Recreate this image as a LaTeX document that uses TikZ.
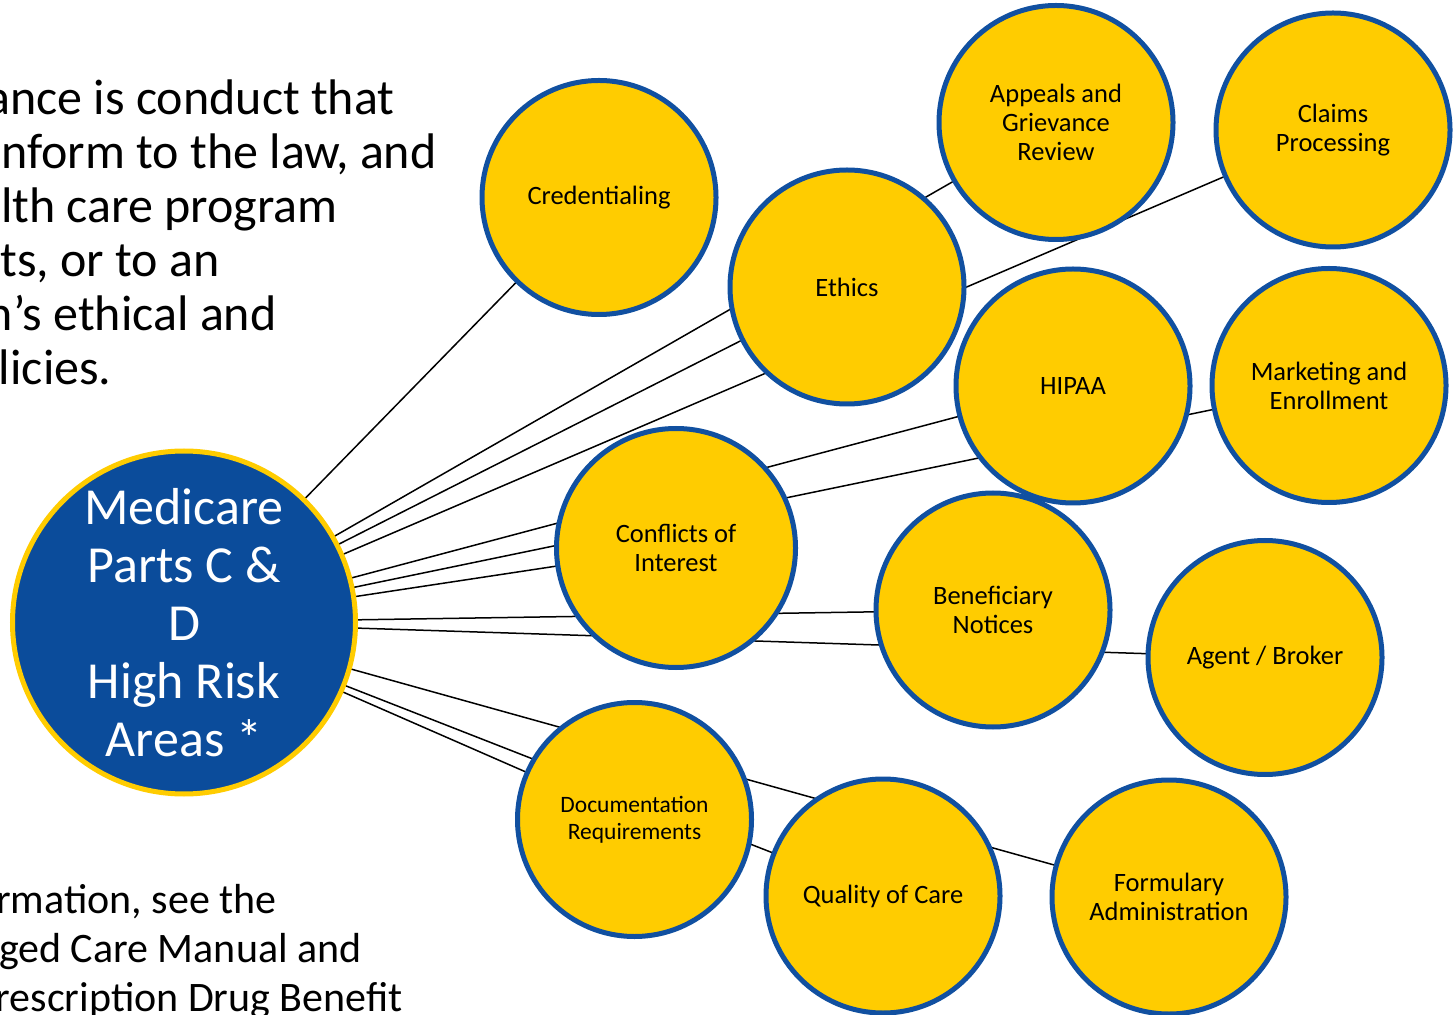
\documentclass[tikz,border=0pt]{standalone}
\usepackage{fontspec}
\setmainfont{Carlito}
\usepackage{tikz}
\usetikzlibrary{positioning,backgrounds}
\definecolor{areaYellow}{RGB}{255,204,0}
\definecolor{areaBlue}{RGB}{17,80,160}
\definecolor{hubBlue}{RGB}{11,76,155}

\begin{document}
\begin{tikzpicture}[x=0.5pt, y=-0.5pt,
                   area/.style={circle, draw=areaBlue, line width=2.5pt, fill=areaYellow,
                                minimum size=117pt, inner sep=0pt, align=center,
                                font=\fontsize{13.25pt}{14.5pt}\selectfont},
                   hub/.style={circle, draw=areaYellow, line width=2.5pt, fill=hubBlue,
                               minimum size=171.5pt, inner sep=0pt, align=center, text=white,
                               font=\fontsize{26pt}{29pt}\selectfont},
                   spoke/.style={line width=0.75pt},
                   note/.style={anchor=base east, inner sep=0pt}]
  \useasboundingbox (0,0) rectangle (1456,1015);

  % text at the left, cut by the page edge
  \foreach \xe/\t [count=\i] in {395/{ance is conduct that}, 437/{nform to the law, and},
                                 338/{lth care program}, 220/{ts, or to an},
                                 277/{n’s ethical and}, 112/{licies.}}
    \node[note, font=\fontsize{25pt}{28pt}\selectfont] (intro\i) at (\xe,61+54*\i) {\t};
  \foreach \xe/\t [count=\i] in {277/{rmation, see the}, 362/{ged Care Manual and},
                                 403/{rescription Drug Benefit}}
    \node[note, font=\fontsize{21pt}{24pt}\selectfont] (more\i) at (\xe,864+49*\i) {\t};

  % hub and risk areas
  \node[hub] (hub) at (184,622.5) {Medicare\\Parts C \&\\D\\High Risk\\Areas *};
  \node[area] (cred) at (599,197.5) {Credentialing};
  \node[area] (ethics) at (847,287) {Ethics};
  \node[area] (appeals) at (1056,122.5) {Appeals and\\Grievance\\Review};
  \node[area] (claims) at (1333,130) {Claims\\Processing};
  \node[area] (hipaa) at (1073,386) {HIPAA};
  \node[area] (market) at (1329,385.5) {Marketing and\\Enrollment};
  \node[area, minimum size=119.5pt] (conflict) at (676,548) {Conflicts of\\Interest};
  \node[area] (benef) at (993,610) {Beneficiary\\Notices};
  \node[area] (agent) at (1265,657.5) {Agent / Broker};
  \node[area, font=\fontsize{11.75pt}{13.5pt}\selectfont] (docs) at (634.5,819.5) {Documentation\\Requirements};
  \node[area] (quality) at (883,896) {Quality of Care};
  \node[area] (formul) at (1169,897) {Formulary\\Administration};

  \begin{scope}[on background layer]
    \foreach \a in {cred,appeals,ethics,claims,hipaa,market,conflict,benef,agent,docs,quality,formul}
      \draw[spoke] (hub.center) -- (\a.center);
  \end{scope}
\end{tikzpicture}
\end{document}
